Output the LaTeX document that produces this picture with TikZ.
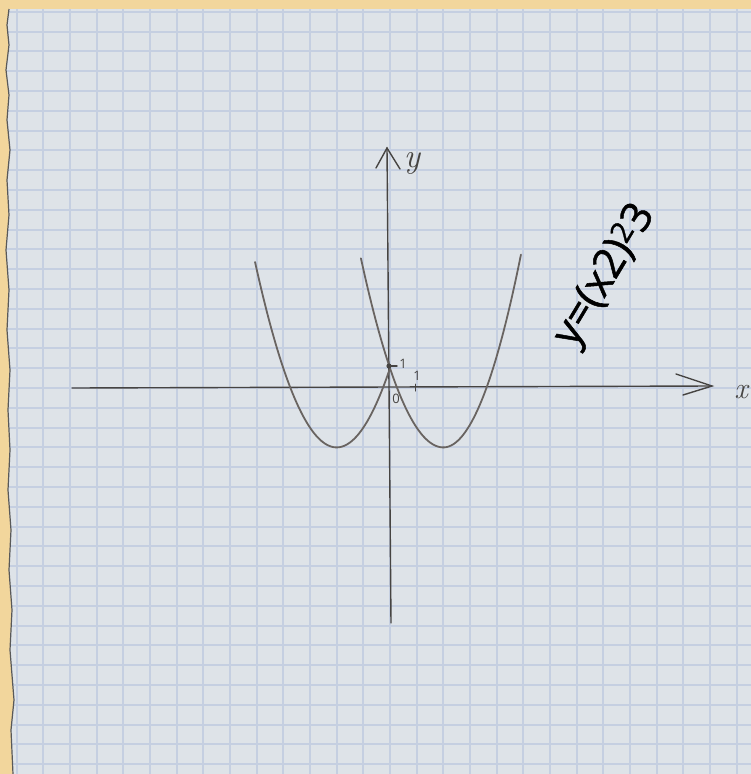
\documentclass[tikz,border=0pt]{standalone}
\usepackage{fontspec}
\newfontfamily\handfont{Open Sans}
\newfontfamily\eqfont{Open Sans}[FakeBold=1.2]
\definecolor{wood}{RGB}{242,214,156}
\definecolor{paper}{RGB}{222,227,232}
\definecolor{gridc}{RGB}{197,207,225}
\definecolor{pencil}{RGB}{105,100,97}
\definecolor{axisc}{RGB}{70,68,66}
\begin{document}
\begin{tikzpicture}[x=1pt,y=-1pt,
  gridline/.style={gridc,line width=1.6pt},
  curve/.style={pencil,line width=1.8pt,line cap=round},
  axisline/.style={axisc,line width=1.4pt,line cap=round},
  small/.style={font=\handfont\fontsize{13}{13}\selectfont,text=axisc,inner sep=0pt}]
\fill[wood] (0,0) rectangle (751,774);
\useasboundingbox (0,0) rectangle (751,774);
% paper with torn left edge
\path[fill=paper,draw=none] (751,9) -- (9,9) -- (7,25) -- (9,45) -- (6,70) -- (9,95) -- (7,120) -- (10,150)
  -- (7,180) -- (9,215) -- (6,250) -- (9,290) -- (7,330) -- (10,370) -- (8,410) -- (10,450)
  -- (8,490) -- (11,530) -- (9,570) -- (12,610) -- (10,650) -- (14,700) -- (11,730) -- (13,774)
  -- (751,774) -- cycle;
\begin{scope}
\clip (751,9) -- (9,9) -- (7,25) -- (9,45) -- (6,70) -- (9,95) -- (7,120) -- (10,150)
  -- (7,180) -- (9,215) -- (6,250) -- (9,290) -- (7,330) -- (10,370) -- (8,410) -- (10,450)
  -- (8,490) -- (11,530) -- (9,570) -- (12,610) -- (10,650) -- (14,700) -- (11,730) -- (13,774)
  -- (751,774) -- cycle;
\foreach \k in {-14,...,13} \draw[gridline] ({round(390+26.67*\k)},9) -- ({round(390+26.67*\k)},774);
\foreach \k in {-19,...,19} \draw[gridline] (5,{round(388+19.8*\k)}) -- (751,{round(388+19.8*\k)});
\end{scope}
\draw[gray!70!black,line width=1.2pt] (9,9) -- (7,25) -- (9,45) -- (6,70) -- (9,95) -- (7,120) -- (10,150)
  -- (7,180) -- (9,215) -- (6,250) -- (9,290) -- (7,330) -- (10,370) -- (8,410) -- (10,450)
  -- (8,490) -- (11,530) -- (9,570) -- (12,610) -- (10,650) -- (14,700) -- (11,730) -- (13,774);
% axes
\coordinate (xl) at (72,388);
\coordinate (xr) at (712,386);
\coordinate (xw1) at (676,374);
\coordinate (xw2) at (683,395);
\coordinate (yb) at (391,623);
\coordinate (yt) at (387,148);
\coordinate (yw1) at (376,168);
\coordinate (yw2) at (400,169);
\draw[axisline] (xl) -- (xr);
\draw[axisline] (xw1) -- (xr) -- (xw2);
\draw[axisline] (yb) -- (yt);
\draw[axisline] (yw1) -- (yt) -- (yw2);
\node[font=\itshape\fontsize{30}{30}\selectfont,text=axisc] (xlab) at (741,392) {x};
\node[font=\itshape\fontsize{34}{34}\selectfont,text=axisc] (ylab) at (412,163) {y};
% curves
\begin{scope}[shift={(390pt,-388pt)},x=26.67pt,y=19.8pt]
\draw[curve] plot[domain=-5.06:0,samples=80,smooth] (\x,{(\x+2)^2-3});
\draw[curve] plot[domain=-1.09:2,samples=60,smooth] (\x,{(\x-2)^2-3});
\draw[curve] plot[domain=2:4.91,samples=60,smooth] (\x,{1.15*(\x-2)^2-3});
\end{scope}
% marks and labels
\coordinate (p1) at (389,366);
\fill[axisc] (p1) circle (2.6);
\draw[axisline] (p1) -- (397,366);
\node[small] (one1) at (403,364) {1};
\draw[axisline,line width=1pt] (415,384) -- (415,391);
\node[small] (one2) at (417,376) {1};
\node[small] (zero) at (396,399) {0};
% equation
\node[rotate=59,font=\eqfont\fontsize{42}{42}\selectfont,text=black,inner sep=0pt] (eq) at (606,276) {y=(x2)\textsuperscript{2}3};
\end{tikzpicture}
\end{document}
